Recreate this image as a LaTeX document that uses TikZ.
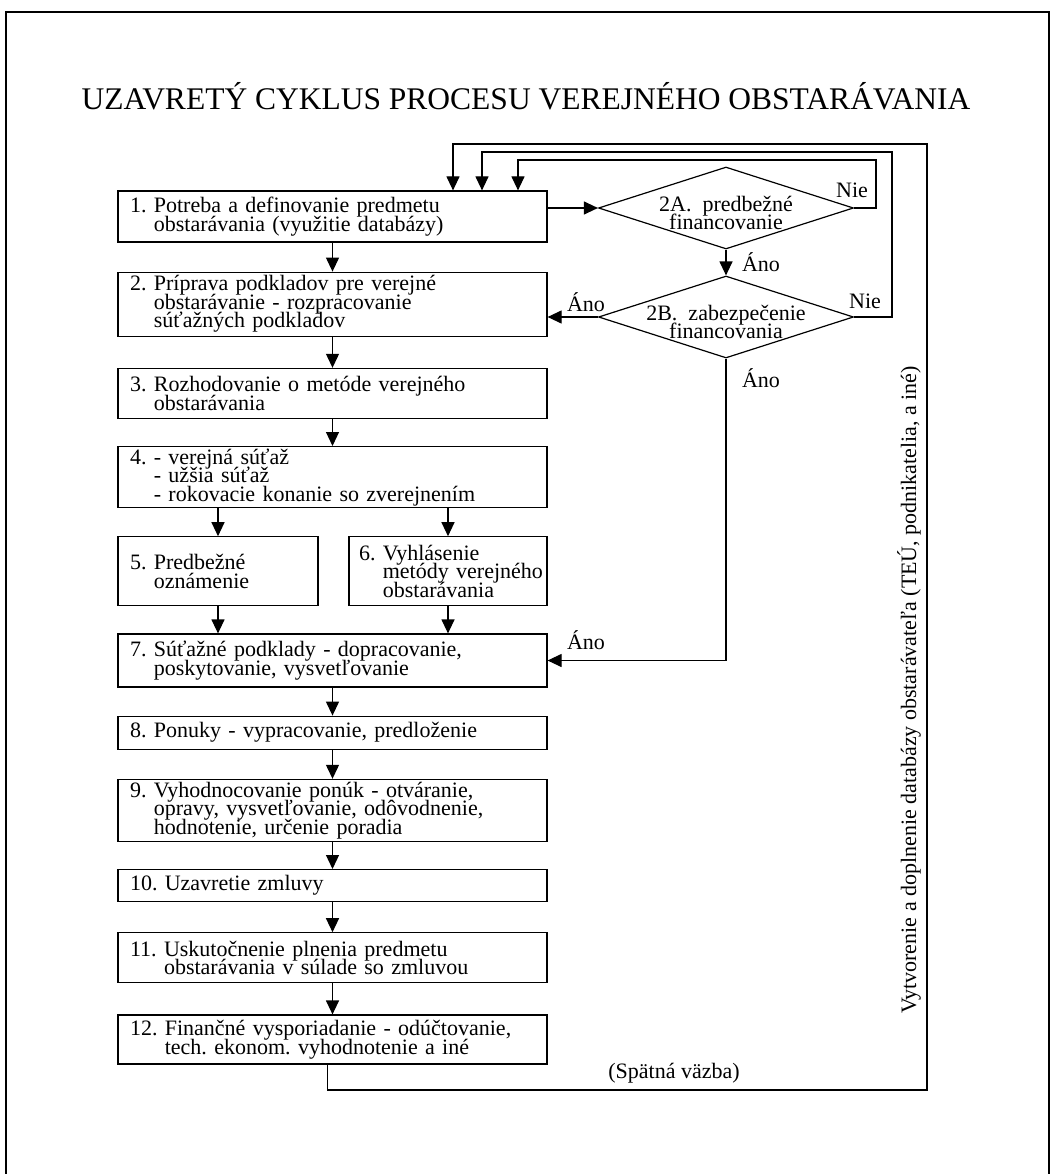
\documentclass[tikz,border=0pt]{standalone}
\usepackage{fontspec}
\setmainfont{Liberation Serif}
\usetikzlibrary{positioning,shapes.geometric,arrows.meta}

\newcommand{\boxfont}{\fontsize{22}{18.5}\selectfont\lineskiplimit=-20pt\lineskip=0pt\frenchspacing\hyphenpenalty=10000}
\newcommand{\titlefont}{\fontsize{31.5}{34}\selectfont}
\newcommand{\hang}[1]{\hphantom{#1}}

\begin{document}
\begin{tikzpicture}[
      x=1pt, y=-1pt,
      every node/.append style={font=\boxfont},
      stepbox/.style={
        draw,
        line width=1.2pt,
        minimum width=429pt,
        text width=405pt,
        inner xsep=12pt,
        inner ysep=0pt,
        align=left
      },
      halfbox/.style={stepbox, minimum width=200pt, text width=176pt},
      decision/.style={
        draw,
        diamond,
        aspect=3.1,
        line width=1.2pt,
        inner sep=0pt,
        minimum width=255pt,
        minimum height=82pt
      },
      arr/.style={-{Triangle[length=14pt,width=13pt]}, line width=1.2pt},
      node distance=29pt
    ]
    \useasboundingbox (0,0) rectangle (1051,1174);
    \draw[line width=2.5pt] (6,1190) -- (6,12) -- (1049,12) -- (1049,1190);
    %% Title
    \node[font=\titlefont] (title) at (526,96) {UZAVRETÝ CYKLUS PROCESU VEREJNÉHO OBSTARÁVANIA};
    %% Steps
    \node[stepbox, minimum height=51pt] (s-1) at (332.5,216.5)
      {1. Potreba a definovanie predmetu\\\hang{1. }obstarávania (využitie databázy)};
    \node[stepbox, minimum height=64pt, below=of s-1] (s-2)
      {2. Príprava podkladov pre verejné\\\hang{2. }obstarávanie - rozpracovanie\\\hang{2. }súťažných podkladov};
    \node[stepbox, minimum height=50pt, below=31pt of s-2] (s-3)
      {3. Rozhodovanie o metóde verejného\\\hang{3. }obstarávania};
    \node[stepbox, minimum height=61pt, below=27pt of s-3] (s-4)
      {4. - verejná súťaž\\\hang{4. }- užšia súťaž\\\hang{4. }- rokovacie konanie so zverejnením};
    \node[halfbox, minimum height=69pt, below right=28pt and 0pt of s-4.south west] (s-5)
      {5. Predbežné\\\hang{5. }oznámenie};
    \node[halfbox, minimum width=198pt, text width=198pt, inner xsep=0pt, minimum height=69pt,
      below left=28pt and 0pt of s-4.south east] (s-6)
      {\hspace*{10pt}6. Vyhlásenie\\\hspace*{10pt}\hang{6. }metódy verejného\\\hspace*{10pt}\hang{6. }obstarávania};
    \node[stepbox, minimum height=53pt, below right=27pt and 0pt of s-5.south west] (s-7)
      {7. Súťažné podklady - dopracovanie,\\\hang{7. }poskytovanie, vysvetľovanie};
    \node[stepbox, minimum height=33pt, below=28pt of s-7] (s-8)
      {8. Ponuky - vypracovanie, predloženie};
    \node[stepbox, minimum height=62pt, below=of s-8] (s-9)
      {9. Vyhodnocovanie ponúk - otváranie,\\\hang{9. }opravy, vysvetľovanie, odôvodnenie,\\\hang{9. }hodnotenie, určenie poradia};
    \node[stepbox, minimum height=32pt, below=27pt of s-9] (s-10)
      {10. Uzavretie zmluvy};
    \node[stepbox, minimum height=50pt, below=30pt of s-10] (s-11)
      {11. Uskutočnenie plnenia predmetu\\\hang{11. }obstarávania v súlade so zmluvou};
    \node[stepbox, minimum height=49pt, below=31pt of s-11] (s-12)
      {12. Finančné vysporiadanie - odúčtovanie,\\\hang{12. }tech. ekonom. vyhodnotenie a iné};
    %% Decisions
    \node[decision] (d-2a) at (726,208) {};
    \node[align=center] (d-2a-text) at (726,213) {2A.\ \ predbežné\\financovanie};
    \node[decision] (d-2b) at (726,317) {};
    \node[align=center] (d-2b-text) at (726,322) {2B.\ \ zabezpečenie\\financovania};
    %% Loop corners
    \coordinate (in-1) at (453,144);
    \coordinate (in-2) at (482,152);
    \coordinate (in-3) at (518,160);
    \coordinate (out-1) at (927,1090);
    \coordinate (out-2) at (892,152);
    \coordinate (out-3) at (876,160);
    %% Main flow
    \draw[arr] (s-1) -- (s-2);
    \draw[arr] (s-2) -- (s-3);
    \draw[arr] (s-3) -- (s-4);
    \draw[arr] (s-4.south -| s-5) -- (s-5);
    \draw[arr] (s-4.south -| s-6) -- (s-6);
    \draw[arr] (s-5) -- (s-7.north -| s-5);
    \draw[arr] (s-6) -- (s-7.north -| s-6);
    \draw[arr] (s-7) -- (s-8);
    \draw[arr] (s-8) -- (s-9);
    \draw[arr] (s-9) -- (s-10);
    \draw[arr] (s-10) -- (s-11);
    \draw[arr] (s-11) -- (s-12);
    %% Financing
    \draw[arr] (s-1.east |- d-2a) -- (d-2a.west);
    \draw[arr] (d-2a.south) -- (d-2b.north);
    \draw[arr] (d-2b.west) -- (s-2.east |- d-2b);
    \draw[arr] (d-2b.south) |- (s-7.east);
    \node (yes-a) at (761,262) {Áno};
    \node (yes-b) at (586,302) {Áno};
    \node (yes-c) at (761,378) {Áno};
    \node (yes-d) at (586,640) {Áno};
    \node (no-a) at (852,190) {Nie};
    \node (no-b) at (865,301) {Nie};
    %% Back loops
    \draw[arr] (d-2a.east) -| (out-3) -| (in-3 |- s-1.north);
    \draw[arr] (d-2b.east) -| (out-2) -| (in-2 |- s-1.north);
    \draw[arr] ([xshift=-5pt]s-12.south) |- (out-1) |- (in-1) -- (in-1 |- s-1.north);
    \node (feedback) at (674,1073) {(Spätná väzba)};
    \node[rotate=90, anchor=base, inner sep=0pt] (database) at (916,690)
      {Vytvorenie a doplnenie databázy obstarávateľa (TEÚ, podnikatelia, a iné)};
  \end{tikzpicture}
\end{document}
